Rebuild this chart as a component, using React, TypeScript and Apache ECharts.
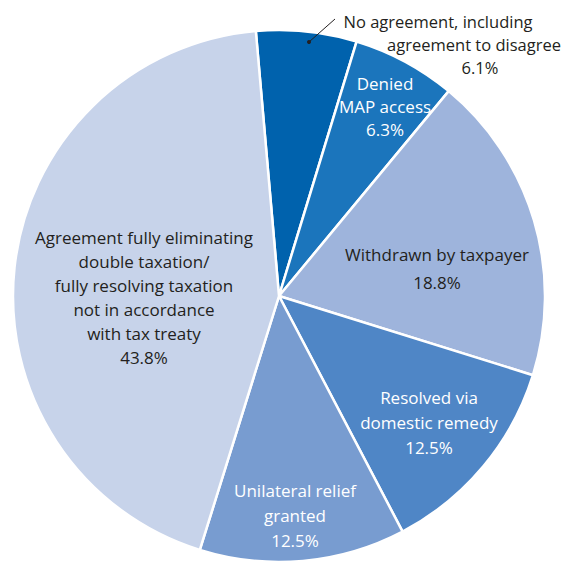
import React, { useEffect, useRef } from "react";
import * as echarts from "echarts";

const categories = [
  "No agreement, including\nagreement to disagree",
  "Denied\nMAP access",
  "Withdrawn by taxpayer",
  "Resolved via\ndomestic remedy",
  "Unilateral relief\ngranted",
  "Agreement fully eliminating\ndouble taxation/\nfully resolving taxation\nnot in accordance\nwith tax treaty",
];
const values = [6.1, 6.3, 18.8, 12.5, 12.5, 43.8];
const colors = ["#0062AD", "#1B75BC", "#9EB4DC", "#4F86C6", "#789CD0", "#C7D3EA"];
const labelColors = ["#231F20", "#FFFFFF", "#231F20", "#FFFFFF", "#FFFFFF", "#231F20"];
const labelPos: [number, number][] = [
  [474, 44],
  [385, 106],
  [437, 268],
  [429, 422],
  [295, 515],
  [144, 297],
];
const lineHeights = [23, 23, 28, 25, 25, 24];

export default function App() {
  const ref = useRef<HTMLDivElement>(null);
  useEffect(() => {
    const chart = echarts.init(ref.current!, undefined, { renderer: "svg" });
    const font = "Open Sans";
    const fs = 17;
    const data = values.map((v, i) => ({
      value: v,
      name: categories[i],
      itemStyle: { color: colors[i] },
      label: {
        color: labelColors[i],
        lineHeight: lineHeights[i],
        fontSize: i === 0 ? 16.5 : fs,
        formatter:
          i === 0
            ? "{a|No agreement, including}\n{b|agreement to disagree}\n{c|" + v.toFixed(1) + "%}"
            : categories[i] + "\n" + v.toFixed(1) + "%",
        rich:
          i === 0
            ? {
                a: { padding: [0, 72, 0, 0], fontSize: 16.5, fontFamily: font, color: labelColors[i], lineHeight: 23 },
                b: { fontSize: 16.5, fontFamily: font, color: labelColors[i], lineHeight: 23 },
                c: { padding: [0, 0, 0, 12], fontSize: 16.5, fontFamily: font, color: labelColors[i], lineHeight: 23 },
              }
            : undefined,
      },
    }));
    chart.setOption({
      animation: false,
      backgroundColor: "#FFFFFF",
      series: [
        {
          type: "pie",
          center: [279, 296],
          radius: [0, 266],
          startAngle: 95,
          clockwise: true,
          data,
          itemStyle: { borderColor: "#FFFFFF", borderWidth: 2.5 },
          label: {
            show: true,
            position: "inside",
            fontFamily: font,
            fontSize: fs,
            align: "center",
          },
          labelLine: { show: false },
          labelLayout: (params: any) => {
            const p = labelPos[params.dataIndex];
            return { x: p[0], y: p[1], align: "center", verticalAlign: "middle" };
          },
          emphasis: { disabled: true },
        },
      ],
      graphic: [
        { type: "line", shape: { x1: 309, y1: 42, x2: 335, y2: 19 }, style: { stroke: "#231F20", lineWidth: 1 }, z: 10 },
        { type: "circle", shape: { cx: 309, cy: 42, r: 2 }, style: { fill: "#231F20" }, z: 10 },
      ],
    });
    return () => chart.dispose();
  }, []);
  return (
    <div
      ref={ref}
      style={{ position: "absolute", left: 0, top: 0, width: 566, height: 561 }}
    />
  );
}
